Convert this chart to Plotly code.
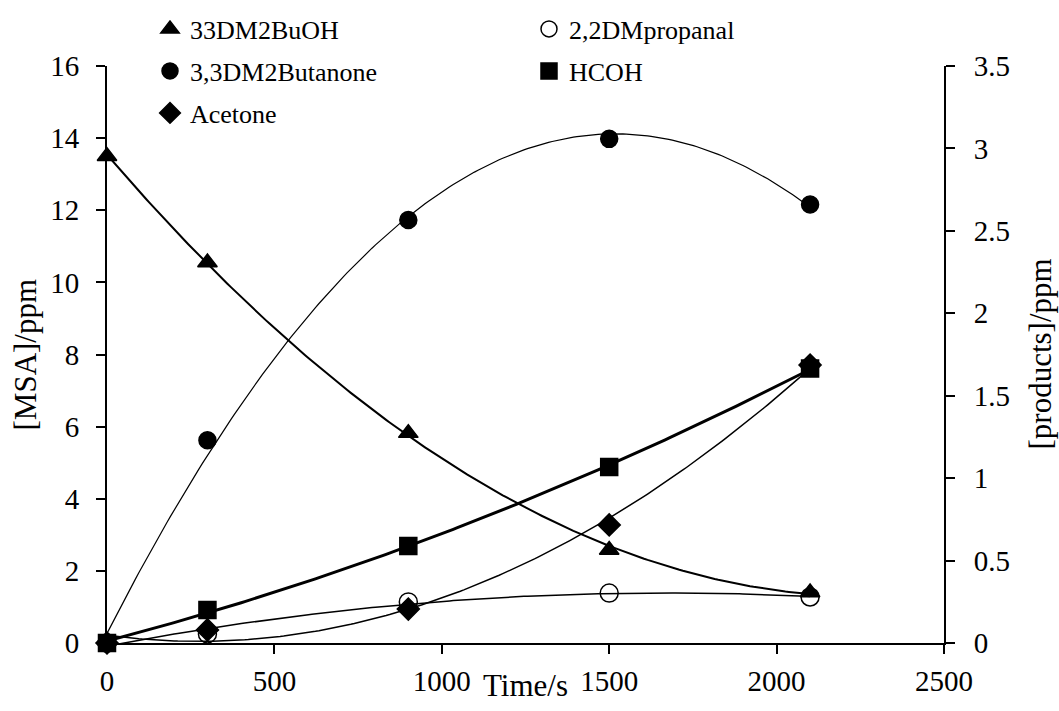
import numpy as np
import plotly.graph_objects as go

time_s = [0, 300, 900, 1500, 2100]
msa_33dm2buoh = [13.5, 10.55, 5.82, 2.58, 1.40]
butanone = [0.0, 1.23, 2.566, 3.058, 2.66]
propanal = [0.0, 0.055, 0.249, 0.303, 0.279]
hcoh = [0.0, 0.20, 0.588, 1.068, 1.665]
acetone = [0.0, 0.079, 0.206, 0.716, 1.686]

FONT = "serif"
fig = go.Figure()

xs = np.linspace(0, 2100, 200)

def trend(x, y, deg=2):
    c = np.polyfit(x, y, deg)
    return np.polyval(c, xs)

# name, values, axis, symbol, trend line width, legend id
series = [
    ("33DM2BuOH", msa_33dm2buoh, "y", "triangle-up", 2.0, "legend"),
    ("2,2DMpropanal", propanal, "y2", "circle-open", 1.5, "legend"),
    ("3,3DM2Butanone", butanone, "y2", "circle", 1.2, "legend2"),
    ("HCOH", hcoh, "y2", "square", 3.0, "legend2"),
    ("Acetone", acetone, "y2", "diamond", 1.5, "legend3"),
]

for name, ys, ax, sym, lw, leg in series:
    fig.add_trace(go.Scatter(x=xs, y=trend(time_s, ys), yaxis=ax, mode="lines",
                             line=dict(color="black", width=lw), showlegend=False,
                             hoverinfo="skip"))
for name, ys, ax, sym, lw, leg in series:
    msize = 17 if sym != "circle-open" else 18
    fig.add_trace(go.Scatter(x=time_s, y=ys, yaxis=ax, mode="markers", name=name,
                             legend=leg, cliponaxis=False,
                             marker=dict(symbol=sym, size=msize, color="black",
                                         line=dict(color="black", width=1.5))))

axis_common = dict(showline=True, linecolor="black", linewidth=2, ticks="outside",
                   ticklen=9, tickwidth=2, tickcolor="black", showgrid=False,
                   zeroline=False, tickfont=dict(family=FONT, size=29, color="black"))

def leg(yc):
    return dict(orientation="h", x=(150 - 107) / 837, xanchor="left",
                y=1 + (66 - yc) / 577, yanchor="middle", entrywidth=334,
                entrywidthmode="pixels",
                font=dict(family=FONT, size=26, color="black"),
                itemwidth=30, bgcolor="rgba(0,0,0,0)")

fig.update_layout(
    width=1059, height=711,
    margin=dict(l=107, r=115, t=66, b=68, autoexpand=False),
    paper_bgcolor="white", plot_bgcolor="white",
    font=dict(family=FONT, color="black", size=29),
    xaxis=dict(range=[0, 2500], dtick=500, ticklabelstandoff=2, **axis_common),
    yaxis=dict(range=[0, 16], dtick=2, ticklabelstandoff=11, **axis_common),
    yaxis2=dict(range=[0, 3.5], dtick=0.5, overlaying="y", side="right",
                ticklabelstandoff=13, **axis_common),
    legend=leg(29), legend2=leg(71), legend3=leg(113),
    showlegend=True,
)

fig.add_annotation(text="Time/s", xref="paper", yref="paper", x=0.5,
                   y=(643 - 685) / 577, xanchor="center", yanchor="middle",
                   showarrow=False, font=dict(family=FONT, size=31, color="black"))
fig.add_annotation(text="[MSA]/ppm", xref="paper", yref="paper",
                   x=(25 - 107) / 837, y=0.5, xanchor="center", yanchor="middle",
                   textangle=-90, showarrow=False,
                   font=dict(family=FONT, size=31, color="black"))
fig.add_annotation(text="[products]/ppm", xref="paper", yref="paper",
                   x=(1040 - 107) / 837, y=0.5, xanchor="center", yanchor="middle",
                   textangle=-90, showarrow=False,
                   font=dict(family=FONT, size=31, color="black"))

fig.write_html("out.html", config={"displayModeBar": False},
               post_script="document.body.style.margin='0';")
